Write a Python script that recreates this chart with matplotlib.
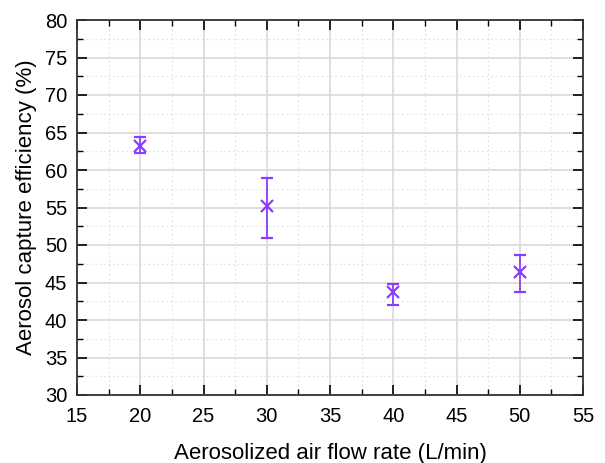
import matplotlib.pyplot as plt
from matplotlib.ticker import MultipleLocator

plt.rcParams["font.family"] = ["Liberation Sans", "DejaVu Sans"]

flow = [20, 30, 40, 50]
eff = [63.2, 55.2, 43.7, 46.4]
err_lo = [0.9, 4.3, 1.7, 2.7]
err_hi = [1.2, 3.8, 1.1, 2.3]

color = "#8B3DFF"

fig = plt.figure(figsize=(6.05, 4.63), dpi=100)
ax = fig.add_axes([77 / 605, 1 - 395 / 463, (583 - 77) / 605, (395 - 20) / 463])

ax.errorbar(flow, eff, yerr=[err_lo, err_hi], fmt="x", color=color,
            ms=8.5, mew=1.6, elinewidth=1.3, capsize=4.5, capthick=1.3, zorder=3)

ax.set_xlim(15, 55)
ax.set_ylim(30, 80)
ax.xaxis.set_major_locator(MultipleLocator(5))
ax.yaxis.set_major_locator(MultipleLocator(5))
ax.xaxis.set_minor_locator(MultipleLocator(2.5))
ax.yaxis.set_minor_locator(MultipleLocator(2.5))
ax.grid(True, which="major", color="#d9d9d9", lw=1.2)
ax.grid(True, which="minor", color="#e0e0e0", lw=0.8, ls=(0, (1.5, 2.5)))
ax.set_axisbelow(True)

ax.tick_params(which="both", direction="in", top=True, right=True, labelsize=14.5)
ax.tick_params(which="major", length=7, width=1.2)
ax.tick_params(axis="x", which="major", pad=9)
ax.tick_params(axis="y", which="major", pad=7)
ax.tick_params(which="minor", length=4, width=1.0)
for s in ax.spines.values():
    s.set_linewidth(1.3)
    s.set_color("#333333")

ax.set_xlabel("Aerosolized air flow rate (L/min)", fontsize=16, labelpad=12)
ax.set_ylabel("Aerosol capture efficiency (%)", fontsize=16, labelpad=6)

fig.savefig("out.png", dpi=100)
